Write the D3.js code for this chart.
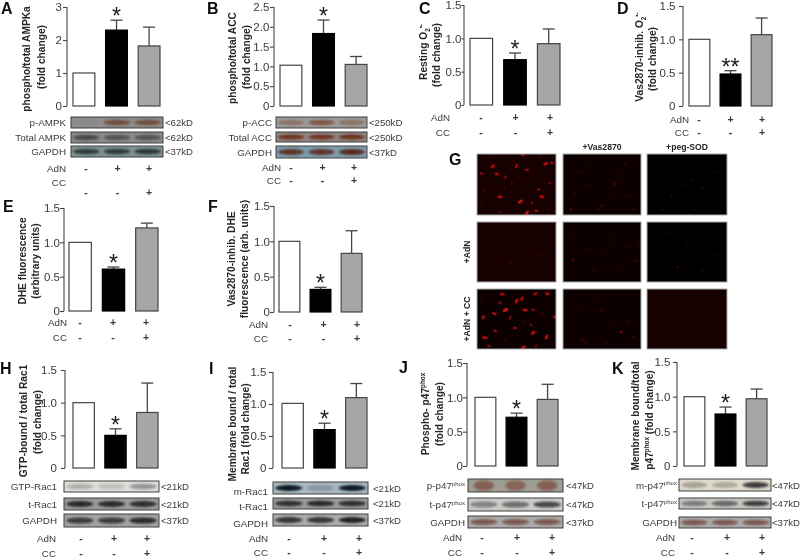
<!DOCTYPE html>
<html><head><meta charset="utf-8">
<script src="https://cdn.jsdelivr.net/npm/d3@7/dist/d3.min.js"></script>
<style>html,body{margin:0;padding:0;background:#fff}svg{display:block}text{font-family:"Liberation Sans",Arial,sans-serif}</style>
</head><body><svg id="c" width="800" height="557"></svg>
<script>
// ---------- data ----------
const conditions = ['Control','AdN','AdN+CC'];
const adnSigns = ['-','+','+'];
const ccSigns = ['-','-','+'];
const valuesA = [1,2.3,1.82],  errorsA = [null,2.6,2.39];
const valuesB = [1.03,1.83,1.05], errorsB = [null,2.17,1.25];
const valuesC = [1,0.68,0.92], errorsC = [null,0.78,1.14];
const valuesD = [1,0.48,1.07], errorsD = [null,0.53,1.32];
const valuesE = [1,0.61,1.21], errorsE = [null,0.64,1.28];
const valuesF = [1,0.32,0.83], errorsF = [null,0.35,1.15];
const valuesH = [1,0.5,0.85],  errorsH = [null,0.6,1.3];
const valuesI = [1.01,0.6,1.1], errorsI = [null,0.7,1.32];
const valuesJ = [1,0.71,0.97], errorsJ = [null,0.77,1.19];
const valuesK = [1,0.75,0.97], errorsK = [null,0.85,1.11];
const ticks3 = [0,1,2,3], ticks25 = [0,0.5,1,1.5,2,2.5], ticks15 = [0,0.5,1,1.5];
const starsA=['*'],starsD=['*','*'];
const titlesA=['phospho/total AMPKa','(fold change)'];
const titlesB=['phospho/total ACC','(fold change)'];
const titlesC=['Resting O_2_^•-^','(fold change)'];
const titlesD=['Vas2870-inhib. O_2_^•-^','(fold change)'];
const titlesE=['DHE fluorescence','(arbitrary units)'];
const titlesF=['Vas2870-inhib. DHE','fluorescence (arb. units)'];
const titlesH=['GTP-bound / total Rac1','(fold change)'];
const titlesI=['Membrane bound / total','Rac1 (fold change)'];
const titlesJ=['Phospho- p47^phox^','(fold change)'];
const titlesK=['Membrane bound/total','p47^phox^ (fold change)'];
const blotLabelsA=['p-AMPK','Total AMPK','GAPDH'], blotKdA=['<62kD','<62kD','<37kD'];
const blotLabelsB=['p-ACC','Total ACC','GAPDH'], blotKdB=['<250kD','<250kD','<37kD'];
const blotLabelsH=['GTP-Rac1','t-Rac1','GAPDH'], blotKdH=['<21kD','<21kD','<37kD'];
const blotLabelsI=['m-Rac1','t-Rac1','GAPDH'], blotKdI=['<21kD','<21kD','<37kD'];
const blotLabelsJ=['p-p47^phox^','t-p47^phox^','GAPDH'], blotKdJ=['<47kD','<47kD','<37kD'];
const blotLabelsK=['m-p47^phox^','t-p47^phox^','GAPDH'], blotKdK=['<47kD','<47kD','<37kD'];
const bandsA=[[.05,.75,.75],[.7,.6,.6],[.9,.9,.95]];
const bandsB=[[.5,.8,.5],[.9,.9,.95],[.9,.9,1]];
const bandsH=[[.45,.3,.7],[.9,.9,.85],[.85,.85,1]];
const bandsI=[[1,.2,1],[.85,.9,.85],[.85,.85,1]];
const bandsJ=[[.7,.65,.7],[.55,.7,1],[.8,.8,.8]];
const bandsK=[[.35,.3,1],[.55,.7,1],[.8,.8,.8]];
const imageColumns=['','+Vas2870','+peg-SOD'];
const imageRows=['','+AdN','+AdN + CC'];
// red signal in the micrographs: [x fraction, y fraction, brightness]
const spots00=[[.2,.2,.8],[.25,.33,.7],[.5,.2,.7],[.63,.26,.6],[.87,.16,.85],[.95,.15,.6],[.36,.38,.5],[.29,.7,.8],[.55,.78,.9],[.82,.7,.8],[.63,.97,.9],[.75,.93,.6],[.78,.58,.5],[.06,.32,.5],[.44,.48,.35],[.58,.02,.6],[.92,.48,.4],[.1,.6,.3],[.7,.8,.4],[.3,.95,.35],[.15,.5,.2],[.35,.55,.2],[.6,.5,.2],[.4,.85,.2],[.9,.9,.2],[.72,.38,.2],[.05,.85,.2],[.45,.1,.25],[.8,.05,.25],[.2,.05,.2]];
const spots01=[[.67,.49,.35],[.3,.5,.2],[.1,.9,.3],[.5,.85,.25],[.8,.15,.2],[.45,.9,.2],[.2,.3,.18],[.85,.7,.2],[.6,.7,.15],[.35,.2,.12],[.75,.3,.14],[.15,.65,.15],[.9,.9,.15]];
const spots02=[[.45,.5,.12],[.7,.55,.12],[.3,.7,.1],[.55,.42,.1],[.6,.9,.08],[.85,.3,.08],[.2,.9,.08]];
const spots10=[[.85,.5,.18],[.42,.67,.22],[.8,.55,.2],[.2,.4,.14],[.6,.2,.14],[.3,.85,.14],[.6,.8,.12],[.1,.15,.12],[.5,.45,.14],[.7,.3,.1],[.15,.65,.12],[.9,.85,.12],[.4,.2,.1]];
const spots11=[[.13,.63,.3],[.92,.65,.25],[.85,.4,.2],[.4,.8,.18],[.6,.3,.14],[.3,.45,.16],[.97,.35,.2],[.7,.75,.14],[.15,.2,.1],[.5,.55,.1]];
const spots12=[[.38,.75,.2],[.88,.55,.1],[.28,.2,.12],[.7,.8,.12],[.5,.4,.08],[.15,.6,.08]];
const spots20=[[.36,.35,.95],[.22,.41,.75],[.5,.2,.85],[.61,.35,.85],[.74,.08,.75],[.89,.08,.75],[.57,.16,.75],[.32,.09,.75],[.29,.23,.5],[.71,.35,.5],[.08,.47,.7],[.48,.65,.6],[.71,.73,.85],[.23,.7,.6],[.88,.8,.85],[.1,.81,.85],[.59,.97,.85],[.99,.47,.7],[.42,.48,.5],[.15,.95,.5],[.75,.95,.4],[.82,.4,.25],[.6,.55,.2],[.35,.85,.2],[.05,.2,.2],[.68,.6,.4]];
const spots21=[[.25,.85,.3],[.75,.72,.4],[.5,.35,.3],[.82,.55,.25],[.2,.3,.15],[.55,.9,.15],[.3,.9,.25],[.9,.8,.2],[.6,.6,.12],[.4,.2,.12]];
const spots22=[[.5,.4,.07],[.3,.7,.07],[.7,.7,.07]];

// ---------- layout & styles ----------
const panels=[
 {id:'A',v:valuesA,e:errorsA,t:ticks3,title:titlesA,letter:[1,14],ax:67,gap:5,yT:7,yB:106,bar:[73,160],sign:[86,149],rows:[168,182,192],lab:66,tx:[[26,59],[41,57]],
  blot:{x:[71,163],y:[[117,128],[132,143],[146,157]],labels:blotLabelsA,kd:blotKdA,bands:bandsA,
   bg:['#8d8d8d','#8a8a8a','#7f9292'],fg:['#6b3a26','#333333','#2b3230'],lx:66,kx:165}},
 {id:'B',v:valuesB,e:errorsB,t:ticks25,title:titlesB,letter:[207,14],ax:274,gap:4.7,yT:7,yB:106,bar:[280,367],sign:[291,354],rows:[167,180,180],lab:281,tx:[[232,58],[246,57]],
  blot:{x:[276,367],y:[[117,128],[132,142],[146,158]],labels:blotLabelsB,kd:blotKdB,bands:bandsB,
   bg:['#9c9c9c','#8d8682','#7b9cab'],fg:['#7a4a33','#6e2a14','#5a2a1a'],lx:272,kx:369}},
 {id:'C',v:valuesC,e:errorsC,t:ticks15,title:titlesC,letter:[419,14],ax:464,gap:2.5,yT:5,yB:105,bar:[470,560],sign:[481,550],rows:[117,132,132],lab:450,tx:[[423,52],[436,55]]},
 {id:'D',v:valuesD,e:errorsD,t:ticks15,title:titlesD,letter:[617,14],ax:683,gap:7.5,yT:6,yB:106,bar:[689,772],sign:[699,762],rows:[119,132,132],lab:689,tx:[[639,57],[652,59]],dbl:true},
 {id:'E',v:valuesE,e:errorsE,t:ticks15,title:titlesE,letter:[3,212],ax:64,gap:4,yT:208,yB:311,bar:[69,158],sign:[80,146],rows:[322,337,337],lab:67,tx:[[22,261],[35,261]]},
 {id:'F',v:valuesF,e:errorsF,t:ticks15,title:titlesF,letter:[208,212],ax:274,gap:4,yT:206,yB:312,bar:[279,362],sign:[290,357],rows:[324,338,338],lab:268,tx:[[231,259],[244,259]]},
 {id:'H',v:valuesH,e:errorsH,t:ticks15,title:titlesH,letter:[0,374],ax:65,gap:8,yT:370,yB:468,bar:[73,158],sign:[81,147],rows:[538,553,553],lab:56,tx:[[23,421],[37,422]],
  blot:{x:[64,159],y:[[481,492],[498,510],[514,527]],labels:blotLabelsH,kd:blotKdH,bands:bandsH,
   bg:['#dedfda','#9a9a9a','#a2a2a2'],fg:['#777777','#1f1f1f','#2e2a28'],lx:57,kx:161}},
 {id:'I',v:valuesI,e:errorsI,t:ticks15,title:titlesI,letter:[209,374],ax:273,gap:6.6,yT:372,yB:468,bar:[282,367],sign:[289,359],rows:[538,552,552],lab:268,tx:[[232,424],[245,429]],
  blot:{x:[273,368],y:[[482,494],[498,509],[514,526]],labels:blotLabelsI,kd:blotKdI,bands:bandsI,
   bg:['#a8b8be','#9a9a9a','#ababab'],fg:['#0c1a24','#1f1f1f','#222222'],lx:268,kx:373,ldy:3}},
 {id:'J',v:valuesJ,e:errorsJ,t:ticks15,title:titlesJ,letter:[399,373],ax:467,gap:4,yT:363,yB:466,bar:[475,558],sign:[482,552],rows:[537,552,552],lab:462,tx:[[425,414],[439,414]],
  blot:{x:[468,563],y:[[479,492],[498,511],[516,528]],labels:blotLabelsJ,kd:blotKdJ,bands:bandsJ,
   bg:['#9e9d94','#cbcbc7','#ababa9'],fg:['#7a4a38','#4a4a4a','#70453a'],lx:465,kx:566,tall:[true,false,false]}},
 {id:'K',v:valuesK,e:errorsK,t:ticks15,title:titlesK,letter:[612,374],ax:677,gap:6.6,yT:362,yB:466,bar:[684,767],sign:[692,762],rows:[537,552,552],lab:675,tx:[[635,416],[649,420]],
  blot:{x:[679,771],y:[[479,491],[498,509],[517,528]],labels:blotLabelsK,kd:blotKdK,bands:bandsK,
   bg:['#dfdacb','#c7c7c2','#ababa9'],fg:['#3c3c3c','#404040','#70453a'],lx:677,kx:772}}
];
const imageX=[[477,556],[563,641],[647,727]];
const imageY=[[154,215],[222,282],[289,349]];
const imageSpots=[[spots00,spots01,spots02],[spots10,spots11,spots12],[spots20,spots21,spots22]];
const imageBg=[['#120000','#0c0000','#050000'],['#160101','#0a0000','#040000'],['#070000','#0d0100','#180302']];
const spotAngle=[-35,20,-60,10];
const barFill=['#ffffff','#000000','#a6a6a6'];
const ink='#454545', textInk='#3a3a3a';

// ---------- drawing ----------
const svg=d3.select('#c');
const defs=svg.append('defs');
const f=(id,s)=>defs.append('filter').attr('id',id).attr('x','-60%').attr('y','-60%').attr('width','220%').attr('height','220%').append('feGaussianBlur').attr('stdDeviation',s);
f('soft',0.35);f('band',1.1);f('spot',0.7);
const root=svg.append('g').attr('filter','url(#soft)');

// small markup: ^sup^ and _sub_
function rich(sel,str,size){
  const parts=str.split(/(\^[^^]*\^|_[^_]*_)/).filter(s=>s!=='');
  let shift=0;
  parts.forEach(p=>{
    let t=p,d=0,fs=size;
    if(p[0]==='^'){t=p.slice(1,-1);d=-size*.35;fs=size*.62;}
    else if(p[0]==='_'){t=p.slice(1,-1);d=size*.25;fs=size*.62;}
    sel.append('tspan').attr('dy',d-shift).attr('font-size',fs).text(t);
    shift=d;
  });
}

panels.forEach((p,pi)=>{
  const g=root.append('g').attr('class','panel-'+p.id);
  const y=d3.scaleLinear().domain([0,d3.max(p.t)]).range([p.yB,p.yT]);
  const x=d3.scaleBand().domain(conditions).range(p.bar).paddingInner(0.33).paddingOuter(0);
  const sx=d3.scalePoint().domain(conditions).range(p.sign);
  // axis
  const tickLen=Math.min(4,p.gap);
  const ax=g.append('g').attr('transform',`translate(${p.ax},0)`)
    .call(d3.axisLeft(y).tickValues(p.t).tickSize(tickLen).tickPadding(p.gap-tickLen).tickFormat(d=>d===0?'0':(d3.max(p.t)===3?d3.format('d')(d):d3.format('.1f')(d))));
  ax.selectAll('path').attr('stroke',ink).attr('stroke-width',1.1).attr('d',`M0,${p.yT}V${p.yB}`);
  ax.selectAll('line').attr('stroke',ink).attr('stroke-width',1.1);
  ax.selectAll('text').attr('font-size',11.5).attr('fill',textInk).attr('font-family','"Liberation Sans",Arial,sans-serif');
  // error bars
  const eb=g.selectAll('.eb').data(conditions.map((c,i)=>({c,e:p.e[i],v:p.v[i]})).filter(d=>d.e!=null)).join('g');
  eb.append('line').attr('x1',d=>x(d.c)+x.bandwidth()/2).attr('x2',d=>x(d.c)+x.bandwidth()/2)
    .attr('y1',d=>y(d.v)).attr('y2',d=>y(d.e)).attr('stroke',ink).attr('stroke-width',1.3);
  eb.append('line').attr('x1',d=>x(d.c)+x.bandwidth()/2-6).attr('x2',d=>x(d.c)+x.bandwidth()/2+6)
    .attr('y1',d=>y(d.e)).attr('y2',d=>y(d.e)).attr('stroke',ink).attr('stroke-width',1.3);
  // bars
  g.selectAll('.bar').data(conditions.map((c,i)=>({c,v:p.v[i],i}))).join('rect')
    .attr('x',d=>x(d.c)).attr('width',x.bandwidth()).attr('y',d=>y(d.v)).attr('height',d=>y(0)-y(d.v))
    .attr('fill',d=>barFill[d.i]).attr('stroke',d=>d.i===1?'#000':ink).attr('stroke-width',1.2);
  // significance star over the AdN bar
  const sy=y(p.e[1])-9, scx=x(conditions[1])+x.bandwidth()/2;
  (p.dbl?starsD:starsA).forEach((s,i,a)=>{
    g.append('text').attr('x',scx+(i-(a.length-1)/2)*9).attr('y',sy+13).attr('text-anchor','middle')
     .attr('font-size',23).attr('fill','#1a1a1a').text(s);
  });
  // y titles
  p.title.forEach((line,i)=>{
    const [tx,ty]=p.tx[i];
    const t=g.append('text').attr('transform',`translate(${tx+4},${ty}) rotate(-90)`).attr('text-anchor','middle')
      .attr('font-weight','bold').attr('fill','#262626').attr('font-size',10.2);
    rich(t,line,10.2);
  });
  // panel letter
  g.append('text').attr('x',p.letter[0]).attr('y',p.letter[1]).attr('font-weight','bold').attr('font-size',16).attr('fill','#111').text(p.id);
  // +/- rows
  const rowLabels=['AdN','CC'];
  [adnSigns,ccSigns].forEach((signs,r)=>{
    g.append('text').attr('x',p.lab).attr('y',p.rows[r]+3.5).attr('text-anchor','end').attr('font-size',9.8).attr('fill',textInk).text(rowLabels[r]);
    g.selectAll('.s'+r).data(conditions.map((c,i)=>({c,s:signs[i]}))).join('text')
      .attr('x',d=>sx(d.c)).attr('y',p.rows[r===0?0:2]+3.5).attr('text-anchor','middle').attr('font-size',10.5).attr('font-weight','bold').attr('fill',textInk).text(d=>d.s);
  });
  // blots
  if(p.blot){
    const b=p.blot;
    const bx=d3.scaleBand().domain(conditions).range(b.x);
    b.y.forEach((yy,r)=>{
      const cid=`clip-${p.id}${r}`;
      defs.append('clipPath').attr('id',cid).append('rect').attr('x',b.x[0]).attr('y',yy[0]).attr('width',b.x[1]-b.x[0]).attr('height',yy[1]-yy[0]);
      const rowG=g.append('g');
      rowG.append('rect').attr('x',b.x[0]).attr('y',yy[0]).attr('width',b.x[1]-b.x[0]).attr('height',yy[1]-yy[0]).attr('fill',b.bg[r]);
      const tall=b.tall&&b.tall[r];
      rowG.append('g').attr('clip-path',`url(#${cid})`).selectAll('ellipse').data(conditions.map((c,i)=>({c,a:b.bands[r][i]}))).join('ellipse')
        .attr('cx',d=>bx(d.c)+bx.bandwidth()/2).attr('cy',(yy[0]+yy[1])/2)
        .attr('rx',bx.bandwidth()*(tall?.32:.43)).attr('ry',tall?(yy[1]-yy[0])*.4:(yy[1]-yy[0])*.2+.5).attr('fill',b.fg[r]).attr('opacity',d=>d.a).attr('filter','url(#band)');
      rowG.append('rect').attr('x',b.x[0]).attr('y',yy[0]).attr('width',b.x[1]-b.x[0]).attr('height',yy[1]-yy[0]).attr('fill','none').attr('stroke','#3c3c3c').attr('stroke-width',1);
      const lt=rowG.append('text').attr('x',b.lx).attr('y',(yy[0]+yy[1])/2+3.5+(b.ldy||0)).attr('text-anchor','end').attr('fill',textInk);
      rich(lt,b.labels[r],9.8);
      rowG.append('text').attr('x',b.kx).attr('y',(yy[0]+yy[1])/2+3.5).attr('fill',textInk).attr('font-size',9.6).text(b.kd[r]);
    });
  }
});

// panel G – micrographs
const gG=root.append('g').attr('class','panel-G');
gG.append('text').attr('x',449).attr('y',165).attr('font-weight','bold').attr('font-size',16).attr('fill','#111').text('G');
imageColumns.forEach((c,i)=>{ if(c) gG.append('text').attr('x',(imageX[i][0]+imageX[i][1])/2).attr('y',150).attr('text-anchor','middle')
  .attr('font-weight','bold').attr('font-size',8.6).attr('font-family','"Open Sans",sans-serif').attr('fill','#222').text(c); });
imageRows.forEach((c,i)=>{ if(c) gG.append('text').attr('transform',`translate(470,${(imageY[i][0]+imageY[i][1])/2}) rotate(-90)`).attr('text-anchor','middle')
  .attr('font-weight','bold').attr('font-size',8.6).attr('font-family','"Open Sans",sans-serif').attr('fill','#222').text(c); });
imageY.forEach((yy,r)=>imageX.forEach((xx,c)=>{
  const cid=`im${r}${c}`;
  defs.append('clipPath').attr('id',cid).append('rect').attr('x',xx[0]).attr('y',yy[0]).attr('width',xx[1]-xx[0]).attr('height',yy[1]-yy[0]);
  const ig=gG.append('g');
  ig.append('rect').attr('x',xx[0]).attr('y',yy[0]).attr('width',xx[1]-xx[0]).attr('height',yy[1]-yy[0]).attr('fill',imageBg[r][c]);
  const sxx=d3.scaleLinear().range(xx), syy=d3.scaleLinear().range(yy);
  ig.append('g').attr('clip-path',`url(#${cid})`).selectAll('ellipse').data(imageSpots[r][c]).join('ellipse')
    .attr('transform',(d,i)=>`translate(${sxx(d[0])},${syy(d[1])}) rotate(${spotAngle[i%spotAngle.length]})`)
    .attr('rx',d=>1.3+d[2]*1.8).attr('ry',d=>.8+d[2]*.9)
    .attr('fill',d=>d3.interpolateRgb('#1c0000','#d81414')(d[2])).attr('filter','url(#spot)');
  ig.append('rect').attr('x',xx[0]).attr('y',yy[0]).attr('width',xx[1]-xx[0]).attr('height',yy[1]-yy[0]).attr('fill','none').attr('stroke','#aaa').attr('stroke-width',1);
}));
</script></body></html>
